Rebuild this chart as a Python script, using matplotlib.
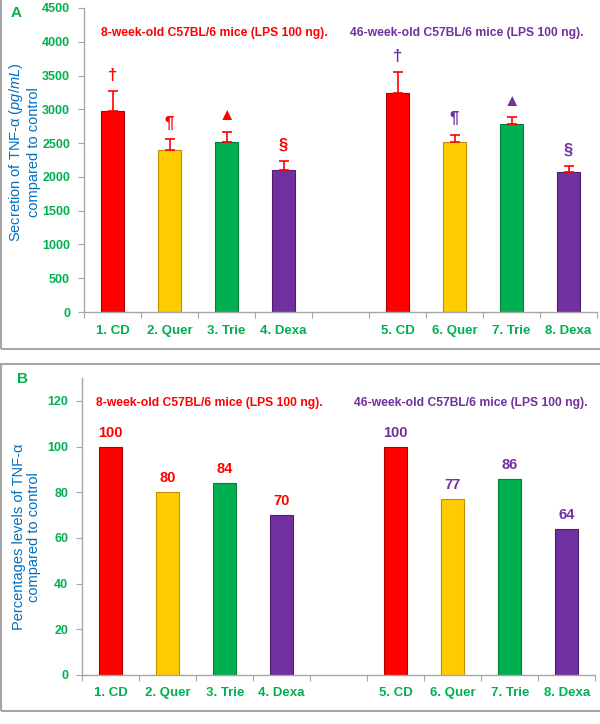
import numpy as np
import matplotlib.pyplot as plt
from matplotlib.patches import Rectangle

plt.rcParams['font.family'] = ['Liberation Sans', 'DejaVu Sans']
plt.rcParams['mathtext.fontset'] = 'custom'
plt.rcParams['mathtext.rm'] = 'Liberation Sans'
plt.rcParams['mathtext.it'] = 'Liberation Sans:italic'

# data
groups = ['1. CD', '2. Quer', '3. Trie', '4. Dexa', '5. CD', '6. Quer', '7. Trie', '8. Dexa']
tnf_mean = [2980, 2400, 2510, 2100, 3240, 2510, 2780, 2070]
tnf_err = [290, 155, 160, 130, 310, 115, 100, 85]
tnf_pct = [100, 80, 84, 70, 100, 77, 86, 64]
marks = ['\u2020', '\u00b6', '\u25b2', '\u00a7', '\u2020', '\u00b6', '\u25b2', '\u00a7']
titles = ['8-week-old C57BL/6 mice (LPS 100 ng).', '46-week-old C57BL/6 mice (LPS 100 ng).']

bar_colors = ['#FF0000', '#FFCC00', '#00B050', '#7030A0'] * 2
edge_colors = ['#B00000', '#C09000', '#00803A', '#4E2070'] * 2
grp_colors = ['#FF0000'] * 4 + ['#7030A0'] * 4
GREEN = '#00B050'
BLUE = '#0070C0'
GRAY = '#A6A6A6'

# 9 slots, 5th one left empty between the two age groups
xpos = np.array([0, 1, 2, 3, 5, 6, 7, 8])


def style_axis(ax, ymax, step):
    ax.set_xlim(-0.5, 8.5)
    ax.set_ylim(0, ymax)
    ax.set_yticks(np.arange(0, ymax + 1, step))
    ax.set_xticks(np.arange(-0.5, 9, 1))
    ax.set_xticklabels([])
    ax.set_xticks(xpos, minor=True)
    ax.set_xticklabels(groups, minor=True)
    ax.tick_params(axis='x', which='minor', length=0, pad=9, labelsize=9.5,
                   labelcolor=GREEN)
    ax.tick_params(axis='x', which='major', length=4, color=GRAY)
    ax.tick_params(axis='y', length=4, color=GRAY, labelsize=9,
                   labelcolor=GREEN, pad=6)
    for lab in ax.get_xticklabels(minor=True) + ax.get_yticklabels():
        lab.set_fontweight('bold')
    for s in ['top', 'right']:
        ax.spines[s].set_visible(False)
    for s in ['left', 'bottom']:
        ax.spines[s].set_color(GRAY)
        ax.spines[s].set_linewidth(1.0)


fig = plt.figure(figsize=(6, 7.24), dpi=100)

# panel frames (right edge falls outside the picture, as in the original)
fig.patches.append(Rectangle((0.002, 0.518), 1.05, 0.5, transform=fig.transFigure,
                             fill=False, edgecolor=GRAY, linewidth=1.5))
fig.patches.append(Rectangle((0.002, 0.018), 1.05, 0.479, transform=fig.transFigure,
                             fill=False, edgecolor=GRAY, linewidth=1.5))

# ---- panel A
axA = fig.add_axes([0.14, 0.569, 0.855, 0.42])
axA.bar(xpos, tnf_mean, width=0.39, color=bar_colors, edgecolor=edge_colors,
        linewidth=0.8, zorder=2)
axA.errorbar(xpos, tnf_mean, yerr=[np.zeros(len(tnf_err)), tnf_err], fmt='none',
             ecolor='#FF0000', elinewidth=1.2, capsize=3.5, capthick=1.2, zorder=3)
style_axis(axA, 4500, 500)
for x, m, e, s, c in zip(xpos, tnf_mean, tnf_err, marks, grp_colors):
    axA.annotate(s, (x, m + e), xytext=(0, 6), textcoords='offset points',
                 ha='center', va='bottom', color=c, fontsize=12, fontweight='bold')
axA.set_ylabel('Secretion of TNF-\u03b1 ($\\mathit{pg/mL}$)\ncompared to control',
               color=BLUE, fontsize=10.5, linespacing=1.15)
axA.yaxis.set_label_coords(-0.084, 0.526)
axA.text(0.255, 0.918, titles[0], transform=axA.transAxes, ha='center', va='center',
         color='#FF0000', fontsize=8.7, fontweight='bold')
axA.text(0.747, 0.918, titles[1], transform=axA.transAxes, ha='center', va='center',
         color='#7030A0', fontsize=8.7, fontweight='bold')
fig.text(0.018, 0.982, 'A', color=GREEN, fontsize=11, fontweight='bold', va='center')

# ---- panel B
axB = fig.add_axes([0.137, 0.0677, 0.855, 0.41])
axB.bar(xpos, tnf_pct, width=0.4, color=bar_colors, edgecolor=edge_colors,
        linewidth=0.8, zorder=2)
style_axis(axB, 130, 20)
axB.set_yticks(np.arange(0, 121, 20))
for x, v, c in zip(xpos, tnf_pct, grp_colors):
    axB.annotate(str(v), (x, v), xytext=(0, 5), textcoords='offset points',
                 ha='center', va='bottom', color=c, fontsize=10.5, fontweight='bold')
axB.set_ylabel('Percentages levels of TNF-\u03b1\ncompared to control',
               color=BLUE, fontsize=10.5, linespacing=1.15)
axB.yaxis.set_label_coords(-0.08, 0.465)
axB.text(0.248, 0.916, titles[0], transform=axB.transAxes, ha='center', va='center',
         color='#FF0000', fontsize=8.7, fontweight='bold')
axB.text(0.758, 0.916, titles[1], transform=axB.transAxes, ha='center', va='center',
         color='#7030A0', fontsize=8.7, fontweight='bold')
fig.text(0.028, 0.477, 'B', color=GREEN, fontsize=11, fontweight='bold', va='center')

fig.savefig('out.png', dpi=100)
